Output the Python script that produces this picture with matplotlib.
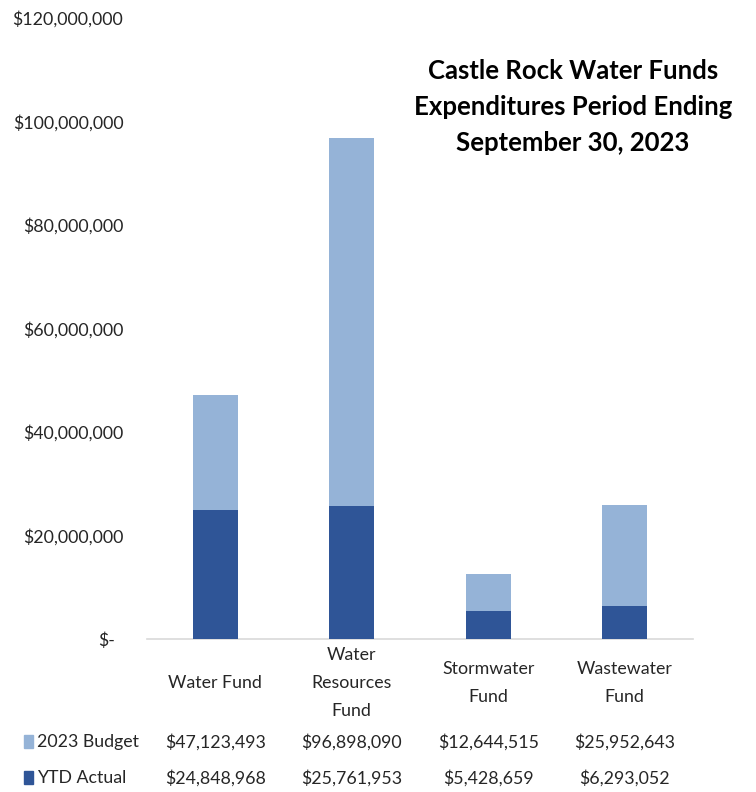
import matplotlib.pyplot as plt
import matplotlib.transforms as mtransforms
from matplotlib.ticker import FuncFormatter

# datos
funds = ['Water Fund', 'Water\nResources\nFund', 'Stormwater\nFund', 'Wastewater\nFund']
budget_2023 = [47123493, 96898090, 12644515, 25952643]
ytd_actual = [24848968, 25761953, 5428659, 6293052]
row_labels = ['2023 Budget', 'YTD Actual']
y_ticks = [0, 20000000, 40000000, 60000000, 80000000, 100000000, 120000000]

c_budget = '#95B3D7'
c_actual = '#2F5597'
c_text = '#262626'
fs = 12.8

plt.rcParams['font.family'] = ['Lato', 'DejaVu Sans']

fig = plt.figure(figsize=(7.56, 7.92), dpi=100)
ax = fig.add_axes([147 / 756, 1 - 639 / 792, (693 - 147) / 756, (639 - 18) / 792])

x = range(len(funds))
ax.bar(x, budget_2023, width=0.33, color=c_budget, zorder=2)
ax.bar(x, ytd_actual, width=0.33, color=c_actual, zorder=3)

ax.set_xlim(-0.5, len(funds) - 0.5)
ax.set_ylim(0, 120000000)
ax.set_yticks(y_ticks)
ax.yaxis.set_major_formatter(FuncFormatter(lambda v, p: '$-' if v == 0 else '${:,.0f}'.format(v)))
ax.tick_params(axis='y', length=0, pad=17, labelsize=fs, labelcolor=c_text)
ax.set_xticks([])
for s in ['top', 'right', 'left']:
    ax.spines[s].set_visible(False)
ax.spines['bottom'].set_color('#D9D9D9')
ax.spines['bottom'].set_linewidth(1.2)

# el "$-" queda un poco a la izquierda (formato contable)
fig.canvas.draw()
for lab in ax.get_yticklabels():
    if lab.get_text() == '$-':
        lab.set_transform(lab.get_transform() + mtransforms.ScaledTranslation(-8 / 100, 0, fig.dpi_scale_trans))

# categorias y tabla de datos debajo del eje
trans = mtransforms.blended_transform_factory(ax.transData, fig.transFigure)
for i, name in enumerate(funds):
    ax.text(i, 1 - 683 / 792, name, transform=trans, ha='center', va='center',
            fontsize=fs, color=c_text, linespacing=1.9)
    ax.text(i, 1 - 742 / 792, '${:,.0f}'.format(budget_2023[i]), transform=trans,
            ha='center', va='center', fontsize=fs, color=c_text)
    ax.text(i, 1 - 778 / 792, '${:,.0f}'.format(ytd_actual[i]), transform=trans,
            ha='center', va='center', fontsize=fs, color=c_text)

for yy, lab, col in [(742, row_labels[0], c_budget), (778, row_labels[1], c_actual)]:
    fig.patches.append(plt.Rectangle((24 / 756, 1 - (yy + 6) / 792), 9 / 756, 13 / 792,
                                     transform=fig.transFigure, color=col))
    fig.text(37 / 756, 1 - yy / 792, lab, ha='left', va='center', fontsize=fs, color=c_text)

fig.text(573 / 756, 1 - 107 / 792, 'Castle Rock Water Funds\nExpenditures Period Ending\nSeptember 30, 2023',
         ha='center', va='center', fontsize=18.5, fontweight='bold', color='black', linespacing=1.6)

fig.savefig('out.png', dpi=100, facecolor='white')
